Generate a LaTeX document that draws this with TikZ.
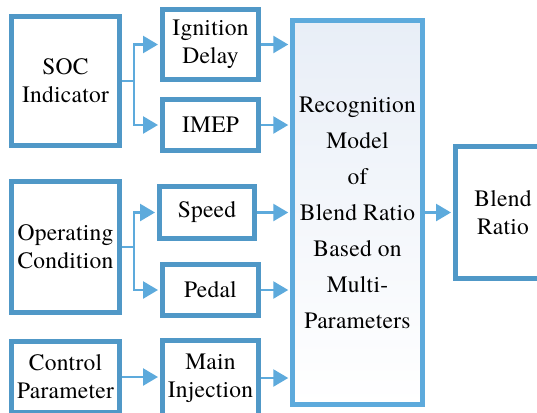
\documentclass[tikz,border=0pt]{standalone}
\usepackage{fontspec}
\newfontfamily\tnr[LetterSpace=1]{texgyretermes-regular.otf}
\usetikzlibrary{arrows.meta}
\definecolor{boxc}{RGB}{80,152,199}
\definecolor{arrc}{RGB}{93,170,220}
\definecolor{shadec}{RGB}{232,238,247}
\tikzset{
  blk/.style={draw=boxc, line width=5pt, fill=white, align=center, inner sep=0pt,
    font=\tnr\fontsize{23.5}{28}\selectfont},
  arr/.style={draw=arrc, line width=2.5pt, shorten >=2pt, -{Triangle[length=15pt,width=17pt]}},
  ln/.style={draw=arrc, line width=2.5pt},
}
\begin{document}
\begin{tikzpicture}[x=1pt,y=-1pt]
\useasboundingbox (0,0) rectangle (537,412);
\clip (0,0) rectangle (537,412);
\fill[white] (0,0) rectangle (537,412);
% boxes
\node[blk, minimum width=108pt, minimum height=129pt] (soc) at (65.5,81) {SOC\\Indicator};
\node[blk, minimum width=96pt, minimum height=70pt] (ign) at (210.5,44.5) {Ignition\\Delay};
\node[blk, minimum width=96pt, minimum height=51pt] (imep) at (210.5,125) {IMEP};
\node[blk, minimum width=108pt, minimum height=131pt] (op) at (65.5,247) {Operating\\Condition};
\node[blk, minimum width=95pt, minimum height=52pt] (speed) at (207,212.5) {Speed};
\node[blk, minimum width=96pt, minimum height=51pt] (pedal) at (210.5,290) {Pedal};
\node[blk, minimum width=108pt, minimum height=71pt] (ctrl) at (65.5,377) {Control\\Parameter};
\node[blk, minimum width=96pt, minimum height=75pt] (main) at (210.5,378) {Main\\Injection};
\node[draw=arrc, line width=4.5pt, top color=shadec, bottom color=white, align=center,
  inner sep=0pt, minimum width=130pt, minimum height=384pt,
  font=\tnr\fontsize{23.5}{36}\selectfont] (big) at (357.5,212.5)
  {Recognition\\Model\\of\\Blend Ratio\\Based on\\Multi-\\Parameters};
\node[blk, minimum width=95pt, minimum height=132pt] (blend) at (503,212.5) {Blend\\Ratio};
% connectors
\coordinate (j1) at (134,81);
\coordinate (j2) at (134,247);
\draw[ln] (soc.east) -- (j1);
\draw[arr] (j1) |- (ign.west);
\draw[arr] (j1) |- (imep.west);
\draw[ln] (op.east) -- (j2);
\draw[arr] (j2) |- (speed.west);
\draw[arr] (j2) |- (pedal.west);
\draw[arr] (ctrl.east) -- (ctrl.east -| main.west);
\draw[arr] (ign.east) -- (ign.east -| big.west);
\draw[arr] (imep.east) -- (imep.east -| big.west);
\draw[arr] (speed.east) -- (speed.east -| big.west);
\draw[arr] (pedal.east) -- (pedal.east -| big.west);
\draw[arr] (main.east) -- (main.east -| big.west);
\draw[arr] (big.east) -- (blend.west);
\end{tikzpicture}
\end{document}
